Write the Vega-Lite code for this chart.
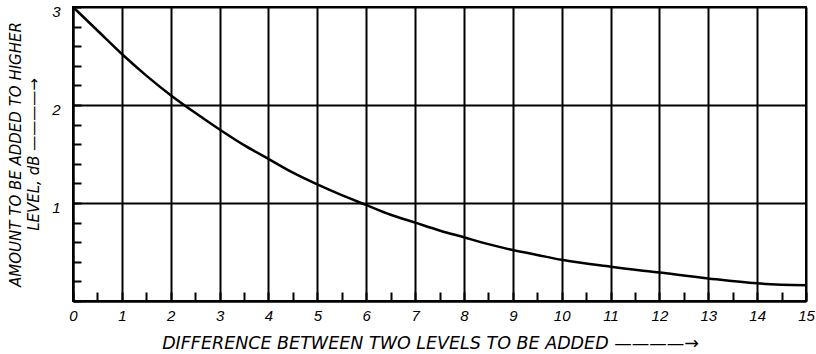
{
  "$schema": "https://vega.github.io/schema/vega-lite/v6.json",
  "width": 733,
  "height": 294,
  "autosize": {"type": "none"},
  "padding": {"left": 73, "top": 7, "right": 10, "bottom": 53},
  "background": "white",
  "config": {
    "view": {"stroke": "black", "strokeWidth": 2},
    "axis": {
      "domainColor": "black",
      "domainWidth": 2,
      "tickColor": "black",
      "tickWidth": 2,
      "gridColor": "black",
      "gridWidth": 2,
      "labelFont": "Liberation Sans",
      "labelFontStyle": "italic",
      "labelFontSize": 15,
      "labelColor": "black",
      "labelFlush": false,
      "labelOverlap": false,
      "titleFont": "DejaVu Sans",
      "titleFontStyle": "italic",
      "titleFontWeight": "normal",
      "titleColor": "black"
    }
  },
  "data": {
    "values": [
      {"d": 0, "v": 3.0},
      {"d": 0.5, "v": 2.76},
      {"d": 1, "v": 2.52},
      {"d": 1.5, "v": 2.3},
      {"d": 2, "v": 2.1},
      {"d": 2.5, "v": 1.92},
      {"d": 3, "v": 1.75},
      {"d": 3.5, "v": 1.59},
      {"d": 4, "v": 1.45},
      {"d": 4.5, "v": 1.31},
      {"d": 5, "v": 1.19},
      {"d": 5.5, "v": 1.08},
      {"d": 6, "v": 0.98},
      {"d": 6.5, "v": 0.88},
      {"d": 7, "v": 0.8},
      {"d": 7.5, "v": 0.72},
      {"d": 8, "v": 0.65},
      {"d": 8.5, "v": 0.58},
      {"d": 9, "v": 0.52},
      {"d": 9.5, "v": 0.47},
      {"d": 10, "v": 0.42},
      {"d": 11, "v": 0.35},
      {"d": 12, "v": 0.29},
      {"d": 13, "v": 0.23},
      {"d": 14, "v": 0.18},
      {"d": 15, "v": 0.16}
    ]
  },
  "mark": {"type": "line", "color": "black", "strokeWidth": 2.5, "interpolate": "monotone"},
  "encoding": {
    "x": {
      "field": "d",
      "type": "quantitative",
      "scale": {"domain": [0, 15], "nice": false, "zero": false},
      "axis": {
        "values": [0, 0.5, 1, 1.5, 2, 2.5, 3, 3.5, 4, 4.5, 5, 5.5, 6, 6.5, 7, 7.5, 8, 8.5, 9, 9.5, 10, 10.5, 11, 11.5, 12, 12.5, 13, 13.5, 14, 14.5, 15],
        "labelExpr": "datum.value % 1 === 0 ? format(datum.value, 'd') : ''",
        "grid": true,
        "gridOpacity": {"condition": {"test": "datum.value % 1 === 0", "value": 1}, "value": 0},
        "tickSize": -9,
        "labelPadding": 16,
        "title": "DIFFERENCE BETWEEN TWO LEVELS TO BE ADDED   ————→",
        "titleFontSize": 17.5,
        "titlePadding": 11,
        "titleX": 357
      }
    },
    "y": {
      "field": "v",
      "type": "quantitative",
      "scale": {"domain": [0, 3], "nice": false, "zero": false},
      "axis": {
        "values": [0, 0.2, 0.4, 0.6, 0.8, 1, 1.2, 1.4, 1.6, 1.8, 2, 2.2, 2.4, 2.6, 2.8, 3],
        "labelExpr": "datum.value % 1 === 0 && datum.value > 0 ? format(datum.value, 'd') : ''",
        "grid": true,
        "gridOpacity": {"condition": {"test": "datum.value % 1 === 0", "value": 1}, "value": 0},
        "tickSize": -8,
        "labelPadding": 21,
        "labelOffset": 4,
        "title": ["AMOUNT TO BE ADDED TO HIGHER", "LEVEL, dB   ————→"],
        "titleFontSize": 15,
        "titleLineHeight": 18,
        "titlePadding": 10
      }
    }
  }
}
